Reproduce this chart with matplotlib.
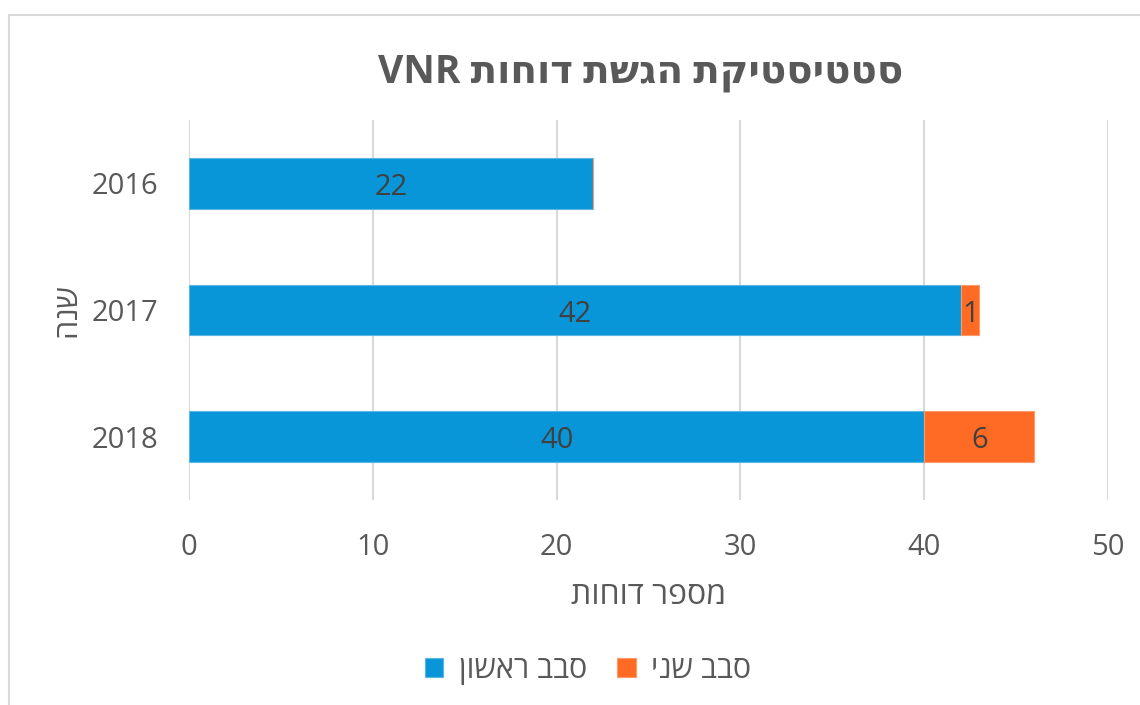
import matplotlib.pyplot as plt
from matplotlib.patches import Rectangle

plt.rcParams['font.family'] = ['Open Sans', 'DejaVu Sans']

# hebrew strings are stored in visual (left-to-right) order
years = ['2016', '2017', '2018']
first_round = [22, 42, 40]
second_round = [0, 1, 6]
round_names = ['ןושאר בבס', 'ינש בבס']
title = 'VNR תוחוד תשגה תקיטסיטטס'
x_label = 'תוחוד רפסמ'
y_label = 'הנש'
x_ticks = [0, 10, 20, 30, 40, 50]

blue = '#0996D8'
orange = '#FF6A24'
text_gray = '#595959'

fig = plt.figure(figsize=(11.4, 7.05), dpi=100)
ax = fig.add_axes([189 / 1140, 1 - 500 / 705, (1108 - 189) / 1140, 380 / 705])

pos = list(range(len(years)))
b1 = ax.barh(pos, first_round, height=0.4, color=blue, edgecolor='#5BB8E6',
             linewidth=0.8, label=round_names[0], zorder=2)
b2 = ax.barh(pos, second_round, left=first_round, height=0.4, color=orange,
             edgecolor='#FF9A6A', linewidth=0.8, label=round_names[1], zorder=2)

for bars, vals in ((b1, first_round), (b2, second_round)):
    for rect, v in zip(bars, vals):
        if v == 0:
            continue
        ax.annotate(str(v), (rect.get_x() + rect.get_width() / 2, rect.get_y() + rect.get_height() / 2),
                    xytext=(0, -3), textcoords='offset points', ha='center', va='center',
                    fontsize=21, color='#404040', zorder=3)

ax.set_ylim(2.5, -0.5)
ax.set_xlim(0, 50)
ax.set_yticks(pos)
ax.set_yticklabels(years)
ax.set_xticks(x_ticks)
ax.tick_params(axis='both', length=0, labelsize=21, labelcolor=text_gray)
ax.tick_params(axis='x', pad=24)
ax.tick_params(axis='y', pad=22)
ax.grid(axis='x', color='#D9D9D9', linewidth=1.5, zorder=0)
ax.set_axisbelow(True)
for s in ax.spines.values():
    s.set_visible(False)

ax.set_xlabel(x_label, fontsize=23, color=text_gray, labelpad=12)
fig.text(67 / 1140, 1 - 310 / 705, y_label, rotation=90, fontsize=22,
         color=text_gray, ha='center', va='center')

fig.text(641 / 1140, 1 - 72 / 705, title, fontsize=28, fontweight='bold',
         color=text_gray, ha='center', va='center')

ax.legend(loc='center', bbox_to_anchor=(588 / 1140, 1 - 670 / 705),
          bbox_transform=fig.transFigure, ncol=2, frameon=False, fontsize=22,
          labelcolor=text_gray, handlelength=0.6, handleheight=0.6,
          handletextpad=0.5, columnspacing=1.0)

fig.patches.append(Rectangle((9 / 1140, -0.1), 1.2, 1 - 15 / 705 + 0.1,
                             transform=fig.transFigure, fill=False,
                             edgecolor='#D9D9D9', linewidth=1.5))

fig.savefig('out.png', dpi=100, facecolor='white')
